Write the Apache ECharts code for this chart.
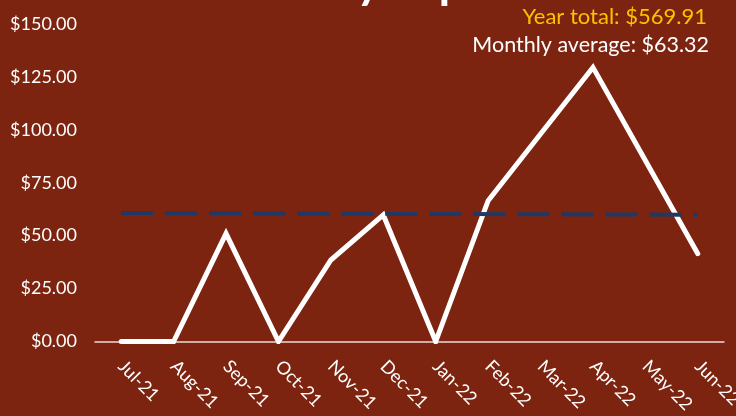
<!DOCTYPE html>
<html>
<head>
<meta charset="utf-8">
<script src="https://cdn.jsdelivr.net/npm/echarts@6/dist/echarts.min.js"></script>
<style>
html,body{margin:0;padding:0;background:#7C2410;}
#chart{width:736px;height:416px;}
</style>
</head>
<body>
<div id="chart"></div>
<script>
const months = ['Jul-21','Aug-21','Sep-21','Oct-21','Nov-21','Dec-21','Jan-22','Feb-22','Mar-22','Apr-22','May-22','Jun-22'];
const spend = [0, 0, 51, 0, 38.5, 59.8, 0, 66.5, 98, 129.5, 85.5, 41.5];
const trend = [60.7, null, null, null, null, null, null, null, null, null, null, 59.9];
const yTicks = [0, 25, 50, 75, 100, 125, 150];
const titleText = 'Monthly Spend';
const totalText = 'Year total: $569.91';
const averageText = 'Monthly average: $63.32';

const FONT = 'Lato, "Open Sans", sans-serif';
const chart = echarts.init(document.getElementById('chart'), null, {renderer: 'canvas'});
chart.setOption({
  backgroundColor: '#7C2410',
  animation: false,
  grid: {left: 95, right: 12, top: 24, bottom: 74.5, containLabel: false, outerBoundsMode: 'none'},
  xAxis: {
    type: 'category',
    data: months,
    boundaryGap: true,
    axisLine: {show: true, lineStyle: {color: '#F0DAD4', width: 1.5}},
    axisTick: {show: false},
    axisLabel: {rotate: -45, color: '#FFFFFF', fontFamily: FONT, fontSize: 18, margin: 22, interval: 0},
    splitLine: {show: false}
  },
  yAxis: {
    type: 'value',
    min: yTicks[0],
    max: yTicks[yTicks.length - 1],
    interval: 25,
    axisLine: {show: false},
    axisTick: {show: false},
    splitLine: {show: false},
    axisLabel: {
      color: '#FFFFFF', fontFamily: FONT, fontSize: 18, margin: 18,
      formatter: v => '$' + v.toFixed(2)
    }
  },
  series: [
    {
      type: 'line',
      data: spend,
      symbol: 'none',
      lineStyle: {color: '#FFFFFF', width: 5, join: 'miter', cap: 'round'},
      z: 2
    },
    {
      type: 'line',
      data: trend,
      connectNulls: true,
      symbol: 'none',
      lineStyle: {color: '#1F3864', width: 4, type: [32, 12], cap: 'butt'},
      z: 3
    }
  ],
  graphic: [
    {type: 'text', x: 364, y: -58, style: {text: titleText, fill: '#FFFFFF', font: '64px ' + FONT, align: 'center', verticalAlign: 'top'}},
    {type: 'text', right: 29, top: 6, style: {text: totalText, fill: '#FFC000', font: '22px ' + FONT}},
    {type: 'text', right: 27, top: 34, style: {text: averageText, fill: '#FFFFFF', font: '21.5px ' + FONT}}
  ]
});
</script>
</body>
</html>
